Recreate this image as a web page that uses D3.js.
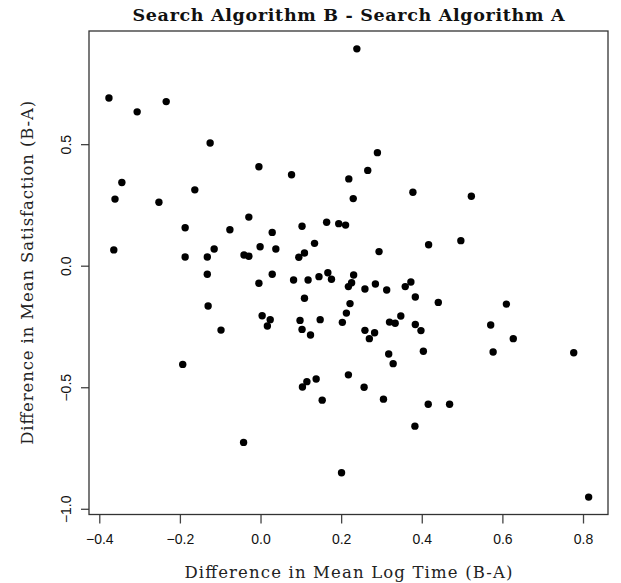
<!DOCTYPE html>
<html>
<head>
<meta charset="utf-8">
<script src="https://cdnjs.cloudflare.com/ajax/libs/d3/7.8.5/d3.min.js"></script>
<style>
	body { margin: 0; background: #fff; }
	svg { display: block; }
</style>
</head>
<body>
<svg id="vis_scatter_svg"></svg>
<script>
(function(){
	'use strict';

	// difference in mean log time (B-A)
	var logTimeDiff = [
		-0.376, -0.306, -0.234, -0.125, -0.344, -0.361, -0.252, -0.163, -0.004, 0.077,
		0.219, -0.364, -0.029, -0.187, -0.076, 0.029, 0.103, -0.115, -0.001, 0.038,
		-0.187, -0.132, -0.041, -0.029, 0.095, 0.109, -0.132, 0.029, -0.004, 0.082,
		0.118, 0.164, 0.194, 0.211, 0.239, 0.290, 0.266, 0.378, 0.230, 0.523,
		0.294, 0.417, 0.497, 0.134, 0.145, 0.167, 0.176, 0.231, 0.226, 0.218,
		0.259, 0.285, 0.313, 0.359, 0.373, -0.130, 0.109, 0.004, 0.024, 0.017,
		0.098, 0.103, 0.124, -0.098, -0.193, 0.115, 0.104, 0.384, 0.441, 0.222,
		0.213, 0.203, 0.148, 0.320, 0.334, 0.348, 0.384, 0.398, 0.259, 0.283,
		0.270, 0.318, 0.329, 0.404, 0.218, 0.138, 0.257, 0.153, 0.305, 0.610,
		0.571, 0.627, 0.577, 0.777, 0.416, 0.469, 0.383, 0.201, 0.814, -0.042
	];

	// difference in mean satisfaction (B-A)
	var satisfactionDiff = [
		0.690, 0.633, 0.675, 0.505, 0.342, 0.274, 0.261, 0.312, 0.407, 0.374,
		0.357, 0.065, 0.200, 0.156, 0.148, 0.137, 0.162, 0.069, 0.078, 0.069,
		0.036, 0.036, 0.044, 0.039, 0.035, 0.052, -0.035, -0.035, -0.072, -0.059,
		-0.059, 0.179, 0.173, 0.167, 0.892, 0.465, 0.392, 0.302, 0.276, 0.286,
		0.058, 0.086, 0.103, 0.092, -0.045, -0.029, -0.056, -0.038, -0.070, -0.086,
		-0.096, -0.075, -0.100, -0.086, -0.067, -0.166, -0.134, -0.206, -0.222, -0.248,
		-0.225, -0.262, -0.285, -0.265, -0.406, -0.477, -0.499, -0.129, -0.151, -0.156,
		-0.195, -0.233, -0.222, -0.232, -0.237, -0.207, -0.242, -0.267, -0.266, -0.276,
		-0.300, -0.363, -0.403, -0.352, -0.449, -0.466, -0.500, -0.553, -0.549, -0.158,
		-0.244, -0.300, -0.355, -0.358, -0.570, -0.570, -0.660, -0.852, -0.952, -0.727
	];

	var xTicks = [-0.4, -0.2, 0.0, 0.2, 0.4, 0.6, 0.8];
	var yTicks = [-1.0, -0.5, 0.0, 0.5];

	var titleText = "Search Algorithm B - Search Algorithm A";
	var xLabel = "Difference in Mean Log Time (B-A)";
	var yLabel = "Difference in Mean Satisfaction (B-A)";

	makeChart();

	function makeChart(){
		var width = 621,
			height = 583;

		var svg = d3.select("#vis_scatter_svg")
			.attr("width", width)
			.attr("height", height);

		var box = {left: 89, right: 608, top: 31, bottom: 514.5};
		var midX = (box.left + box.right) / 2,
			midY = (box.top + box.bottom) / 2;

		var x = d3.scaleLinear()
			.domain([-0.4255, 0.862])
			.range([box.left, box.right]);

		var y = d3.scaleLinear()
			.domain([-1.0235, 0.9655])
			.range([box.bottom, box.top]);

		var data = logTimeDiff.map(function(d, i){
			return {x: d, y: satisfactionDiff[i]};
		});

		var fmt = d3.format(".1f");
		var serif = "'DejaVu Serif', 'Liberation Serif', serif";
		var sans = "'Liberation Sans', Arial, sans-serif";

		// x axis
		var xAxis = svg.append("g")
			.attr("transform", "translate(0," + box.bottom + ")")
			.call(d3.axisBottom(x).tickValues(xTicks).tickSize(9).tickSizeOuter(0).tickFormat(fmt));

		xAxis.select(".domain").remove();
		xAxis.selectAll(".tick line").attr("stroke", "#444").attr("stroke-width", 1.3);
		xAxis.selectAll(".tick text")
			.attr("y", 20)
			.attr("dy", "0.71em")
			.style("font", "14px " + sans)
			.attr("fill", "#111");

		// y axis, labels turned like R
		var yAxis = svg.append("g")
			.attr("transform", "translate(" + box.left + ",0)")
			.call(d3.axisLeft(y).tickValues(yTicks).tickSize(8).tickSizeOuter(0).tickFormat(fmt));

		yAxis.select(".domain").remove();
		yAxis.selectAll(".tick line").attr("stroke", "#444").attr("stroke-width", 1.3);
		yAxis.selectAll(".tick text")
			.attr("x", null)
			.attr("text-anchor", "middle")
			.attr("transform", "translate(-23,0) rotate(-90)")
			.attr("dy", "0.36em")
			.style("font", "14px " + sans)
			.attr("fill", "#111");

		// frame
		svg.append("rect")
			.attr("x", box.left)
			.attr("y", box.top)
			.attr("width", box.right - box.left)
			.attr("height", box.bottom - box.top)
			.attr("fill", "none")
			.attr("stroke", "#333")
			.attr("stroke-width", 1.3);

		// points
		svg.append("g")
			.selectAll("circle")
			.data(data)
			.enter().append("circle")
				.attr("cx", function(d){ return x(d.x); })
				.attr("cy", function(d){ return y(d.y); })
				.attr("r", 3.7)
				.attr("fill", "#000");

		svg.append("text")
			.attr("x", midX)
			.attr("y", 20.5)
			.attr("text-anchor", "middle")
			.attr("textLength", 432)
			.attr("lengthAdjust", "spacing")
			.style("font", "bold 17.5px " + serif)
			.attr("fill", "#111")
			.text(titleText);

		svg.append("text")
			.attr("x", midX)
			.attr("y", 577.5)
			.attr("text-anchor", "middle")
			.attr("textLength", 328)
			.attr("lengthAdjust", "spacing")
			.style("font", "16.5px " + serif)
			.attr("fill", "#222")
			.text(xLabel);

		svg.append("text")
			.attr("transform", "translate(32.5," + midY + ") rotate(-90)")
			.attr("text-anchor", "middle")
			.attr("textLength", 344)
			.attr("lengthAdjust", "spacing")
			.style("font", "16.5px " + serif)
			.attr("fill", "#222")
			.text(yLabel);
	}

})();
</script>
</body>
</html>
